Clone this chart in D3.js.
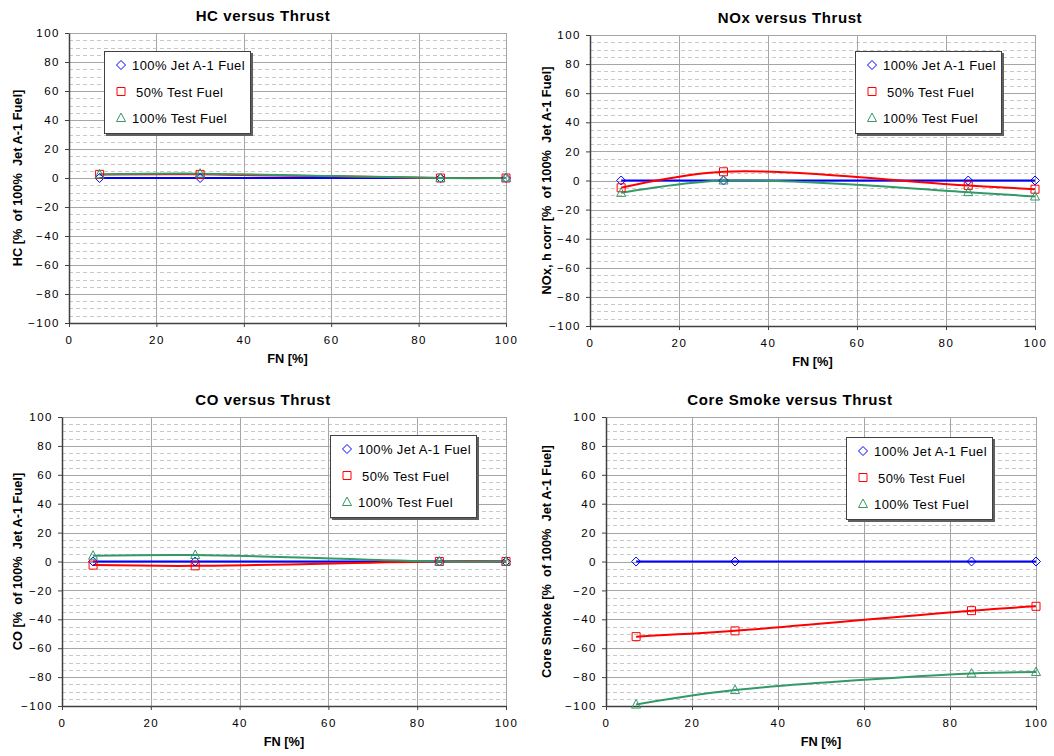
<!DOCTYPE html>
<html>
<head>
<meta charset="utf-8">
<script src="https://cdn.jsdelivr.net/npm/d3@7"></script>
<style>
body { margin: 0; background: #fff; }
svg { font-family: "Liberation Sans", Arial, sans-serif; }
.tick text { font-size: 11.5px; letter-spacing: 1.5px; fill: #000; }
.axis path, .axis line { stroke: #404040; }
.title { font-size: 15px; font-weight: bold; letter-spacing: 0.6px; }
.axlabel { font-size: 12.8px; font-weight: bold; white-space: pre; }
.legtext { font-size: 13px; letter-spacing: 0.4px; white-space: pre; }
</style>
</head>
<body>
<script>
// thrust points (x values)
var fn = [7, 30, 85, 100];

var seriesNames = ["100% Jet A-1 Fuel", " 50% Test Fuel", "100% Test Fuel"];
var xTicks = [0, 20, 40, 60, 80, 100];
var yTicks = [-100, -80, -60, -40, -20, 0, 20, 40, 60, 80, 100];

// % of 100% Jet A-1 values
var hcJet = [0, 0, 0, 0];
var hc50 = [2.5, 2.5, 0, 0];
var hc100 = [2.5, 3, 0, 0];

var noxJet = [0, 0, 0, 0];
var nox50 = [-5, 6, -3.5, -6];
var nox100 = [-8.5, 0, -8, -11];

var coJet = [0, 0, 0, 0];
var co50 = [-2.5, -3, 0, 0];
var co100 = [4, 4.5, 0, 0];

var smokeJet = [0, 0, 0, 0];
var smoke50 = [-52, -48, -34, -31];
var smoke100 = [-99, -89, -77.5, -76.5];

var colors = ["#0000ff", "#ff0000", "#339966"];
var markers = [
    "M0,-4.5L4.5,0L0,4.5L-4.5,0Z",
    "M-4,-4h8v8h-8Z",
    "M0,-5L4.5,3.5L-4.5,3.5Z"
];

var panels = [
    {title: "HC versus Thrust", ylab: "HC [%  of 100%  Jet A-1 Fuel]",
     series: [hcJet, hc50, hc100],
     ox: 0, oy: 0, left: 69, right: 506, top: 33, bottom: 323,
     titleY: 21, xlabY: 363, ylabX: 22, leg: [104, 51]},
    {title: "NOx versus Thrust", ylab: "NOx, h corr [%  of 100%  Jet A-1 Fuel]",
     series: [noxJet, nox50, nox100],
     ox: 527, oy: 0, left: 63, right: 508, top: 35, bottom: 326,
     titleY: 23, xlabY: 366, ylabX: 24, leg: [328, 51]},
    {title: "CO versus Thrust", ylab: "CO [%  of 100%  Jet A-1 Fuel]",
     series: [coJet, co50, co100],
     ox: 0, oy: 378, left: 62, right: 506, top: 39, bottom: 328,
     titleY: 27, xlabY: 368, ylabX: 22, leg: [330, 57]},
    {title: "Core Smoke versus Thrust", ylab: "Core Smoke [%  of 100%  Jet A-1 Fuel]",
     series: [smokeJet, smoke50, smoke100],
     ox: 527, oy: 378, left: 79, right: 509, top: 39, bottom: 328,
     titleY: 27, xlabY: 368, ylabX: 24, leg: [319, 59]}
];

var svg = d3.select("body")
    .append("svg")
    .attr("width", 1054)
    .attr("height", 756);

panels.forEach(drawPanel);

function drawPanel(p) {
    var g = svg.append("g")
        .attr("transform", "translate(" + p.ox + "," + p.oy + ")");

    var x = d3.scaleLinear().domain([0, 100]).range([p.left, p.right]);
    var y = d3.scaleLinear().domain([-100, 100]).range([p.bottom, p.top]);

    // minor dashed grid every 5
    var minor = d3.range(-95, 100, 5).filter(function(v) { return v % 20 != 0; });
    g.selectAll(".minor")
        .data(minor)
        .enter().append("line")
        .attr("x1", p.left).attr("x2", p.right)
        .attr("y1", function(d) { return Math.round(y(d)) + 0.5; })
        .attr("y2", function(d) { return Math.round(y(d)) + 0.5; })
        .attr("stroke", "#c8c8c8")
        .attr("stroke-dasharray", "4,3");

    // major grid
    g.selectAll(".hgrid")
        .data(yTicks)
        .enter().append("line")
        .attr("x1", p.left).attr("x2", p.right)
        .attr("y1", function(d) { return Math.round(y(d)) + 0.5; })
        .attr("y2", function(d) { return Math.round(y(d)) + 0.5; })
        .attr("stroke", "#a6a6a6");
    g.selectAll(".vgrid")
        .data(xTicks)
        .enter().append("line")
        .attr("y1", p.top).attr("y2", p.bottom)
        .attr("x1", function(d) { return Math.round(x(d)) + 0.5; })
        .attr("x2", function(d) { return Math.round(x(d)) + 0.5; })
        .attr("stroke", "#a6a6a6");

    g.append("g")
        .attr("class", "axis")
        .attr("transform", "translate(" + p.left + ",0)")
        .call(d3.axisLeft(y).tickValues(yTicks).tickSize(4).tickSizeOuter(0).tickPadding(5));

    g.append("g")
        .attr("class", "axis")
        .attr("transform", "translate(0," + p.bottom + ")")
        .call(d3.axisBottom(x).tickValues(xTicks).tickSize(4).tickSizeOuter(0).tickPadding(9));

    g.selectAll(".axis .domain").attr("stroke-width", 1.5);

    var line = d3.line()
        .x(function(d, i) { return x(fn[i]); })
        .y(function(d) { return y(d); })
        .curve(d3.curveCatmullRom.alpha(0.5));

    p.series.forEach(function(vals, k) {
        g.append("path")
            .datum(vals)
            .attr("d", line)
            .attr("fill", "none")
            .attr("stroke", colors[k])
            .attr("stroke-width", 2);
    });
    p.series.forEach(function(vals, k) {
        g.selectAll(".m" + k)
            .data(vals)
            .enter().append("path")
            .attr("d", markers[k])
            .attr("transform", function(d, i) {
                return "translate(" + x(fn[i]) + "," + y(d) + ")";
            })
            .attr("fill", "none")
            .attr("stroke", colors[k])
            .attr("stroke-width", 1);
    });

    // titles
    g.append("text")
        .attr("class", "title")
        .attr("x", 263).attr("y", p.titleY)
        .attr("text-anchor", "middle")
        .text(p.title);
    g.append("text")
        .attr("class", "axlabel")
        .attr("x", (p.left + p.right) / 2).attr("y", p.xlabY)
        .attr("text-anchor", "middle")
        .text("FN [%]");
    g.append("text")
        .attr("class", "axlabel")
        .attr("transform", "translate(" + p.ylabX + "," + ((p.top + p.bottom) / 2) + ") rotate(-90)")
        .attr("text-anchor", "middle")
        .text(p.ylab);

    // legend
    var lg = g.append("g")
        .attr("transform", "translate(" + p.leg[0] + "," + p.leg[1] + ")");
    lg.append("rect")
        .attr("x", 2).attr("y", 2).attr("width", 147).attr("height", 83)
        .attr("fill", "#606060");
    lg.append("rect")
        .attr("x", 0.5).attr("y", 0.5).attr("width", 146).attr("height", 82)
        .attr("fill", "#fff")
        .attr("stroke", "#404040");
    seriesNames.forEach(function(name, k) {
        var yy = 14 + k * 26.5;
        lg.append("path")
            .attr("d", markers[k])
            .attr("transform", "translate(17," + yy + ")")
            .attr("fill", "none")
            .attr("stroke", colors[k]);
        lg.append("text")
            .attr("class", "legtext")
            .attr("x", 28).attr("y", yy + 5)
            .text(name);
    });
}
</script>
</body>
</html>
